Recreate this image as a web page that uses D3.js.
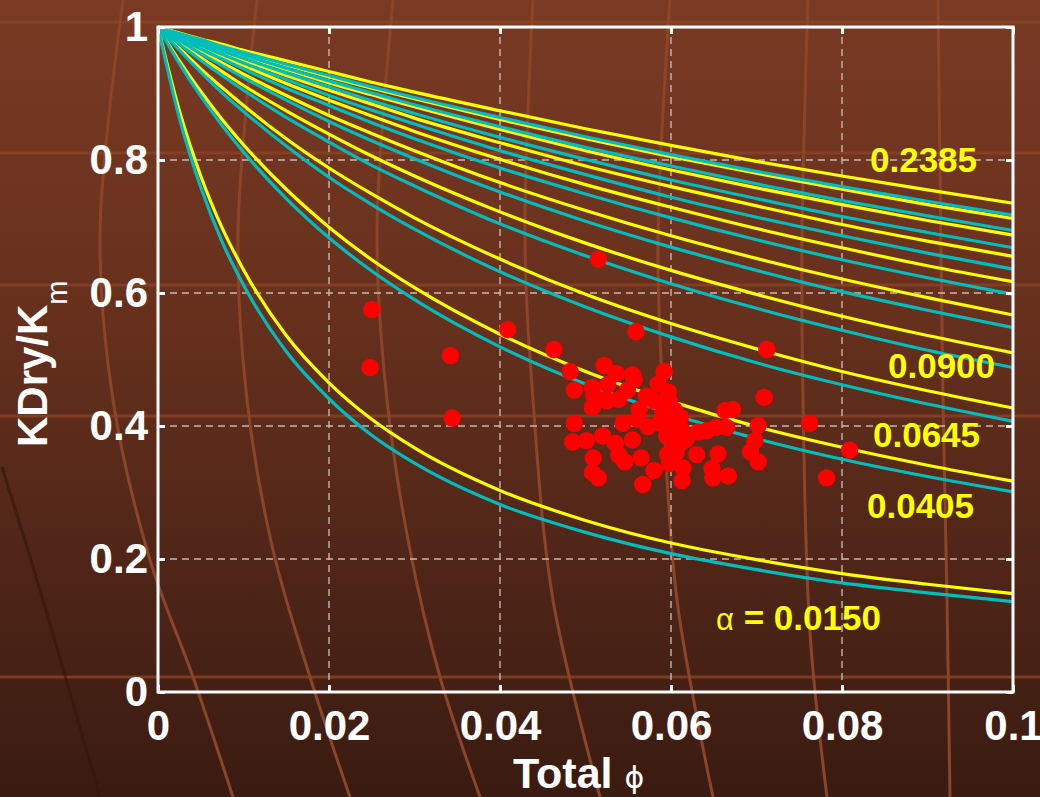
<!DOCTYPE html>
<html>
<head>
<meta charset="utf-8">
<script src="https://cdn.jsdelivr.net/npm/d3@7"></script>
<style>
  html, body { margin: 0; padding: 0; background: #5a2a1a; }
  svg { display: block; }
</style>
</head>
<body>
<svg id="chart" width="1040" height="797"></svg>
<script>
// ---- data -------------------------------------------------------------
// porosity samples along every model curve
const phiGrid = [0, 0.0025, 0.005, 0.0075, 0.01, 0.015, 0.02, 0.025, 0.03, 0.04, 0.05, 0.06, 0.07, 0.08, 0.09, 0.1];

// crack aspect ratios, one curve pair per value (lowest curve first)
const alphas = [0.0150, 0.0405, 0.0645, 0.0900, 0.1140, 0.1395, 0.1635, 0.1890, 0.2130, 0.2385];
const labeledAlphas = ["0.2385", "0.0900", "0.0645", "0.0405", "0.0150"];

// KDry/Km along phiGrid, yellow model
const yellowCurves = [
  [1, 0.874, 0.776, 0.698, 0.635, 0.536, 0.465, 0.410, 0.367, 0.303, 0.258, 0.224, 0.199, 0.178, 0.162, 0.148],
  [1, 0.949, 0.903, 0.861, 0.823, 0.756, 0.699, 0.650, 0.608, 0.538, 0.482, 0.437, 0.399, 0.368, 0.341, 0.317],
  [1, 0.968, 0.937, 0.909, 0.882, 0.832, 0.788, 0.749, 0.713, 0.651, 0.598, 0.554, 0.516, 0.482, 0.453, 0.427],
  [1, 0.977, 0.954, 0.933, 0.912, 0.874, 0.839, 0.806, 0.776, 0.722, 0.675, 0.634, 0.598, 0.565, 0.536, 0.510],
  [1, 0.981, 0.963, 0.946, 0.929, 0.897, 0.867, 0.840, 0.814, 0.766, 0.724, 0.686, 0.652, 0.621, 0.593, 0.567],
  [1, 0.985, 0.970, 0.955, 0.942, 0.915, 0.890, 0.866, 0.843, 0.801, 0.763, 0.729, 0.697, 0.668, 0.641, 0.617],
  [1, 0.987, 0.974, 0.962, 0.950, 0.927, 0.905, 0.884, 0.863, 0.826, 0.791, 0.760, 0.731, 0.703, 0.678, 0.655],
  [1, 0.989, 0.978, 0.967, 0.956, 0.936, 0.916, 0.898, 0.880, 0.846, 0.814, 0.785, 0.758, 0.733, 0.709, 0.687],
  [1, 0.990, 0.980, 0.971, 0.961, 0.943, 0.925, 0.908, 0.892, 0.861, 0.832, 0.805, 0.780, 0.756, 0.733, 0.712],
  [1, 0.991, 0.982, 0.974, 0.965, 0.949, 0.933, 0.917, 0.902, 0.874, 0.847, 0.822, 0.798, 0.776, 0.755, 0.735]
];

// KDry/Km along phiGrid, cyan model
const cyanCurves = [
  [1, 0.863, 0.759, 0.677, 0.612, 0.512, 0.441, 0.386, 0.344, 0.282, 0.240, 0.208, 0.184, 0.164, 0.149, 0.136],
  [1, 0.945, 0.896, 0.852, 0.812, 0.742, 0.683, 0.633, 0.590, 0.519, 0.463, 0.418, 0.381, 0.350, 0.324, 0.301],
  [1, 0.965, 0.932, 0.901, 0.873, 0.821, 0.774, 0.733, 0.696, 0.632, 0.579, 0.534, 0.495, 0.462, 0.433, 0.407],
  [1, 0.974, 0.950, 0.927, 0.905, 0.864, 0.827, 0.792, 0.761, 0.704, 0.656, 0.614, 0.577, 0.544, 0.514, 0.488],
  [1, 0.980, 0.960, 0.942, 0.924, 0.890, 0.858, 0.829, 0.802, 0.752, 0.708, 0.669, 0.634, 0.602, 0.574, 0.548],
  [1, 0.983, 0.967, 0.952, 0.937, 0.908, 0.882, 0.856, 0.832, 0.788, 0.749, 0.713, 0.680, 0.650, 0.623, 0.598],
  [1, 0.986, 0.972, 0.959, 0.946, 0.921, 0.897, 0.875, 0.854, 0.814, 0.778, 0.744, 0.714, 0.686, 0.660, 0.636],
  [1, 0.988, 0.976, 0.964, 0.953, 0.931, 0.910, 0.889, 0.870, 0.834, 0.801, 0.770, 0.742, 0.715, 0.691, 0.668],
  [1, 0.989, 0.978, 0.968, 0.958, 0.938, 0.919, 0.901, 0.883, 0.850, 0.819, 0.791, 0.764, 0.739, 0.716, 0.694],
  [1, 0.990, 0.981, 0.971, 0.962, 0.944, 0.927, 0.910, 0.894, 0.864, 0.835, 0.808, 0.783, 0.760, 0.738, 0.717]
];

// measured samples: total porosity and KDry/Km
const samplePhi = [
  0.0250, 0.0248, 0.0342, 0.0344, 0.0409, 0.0463, 0.0515, 0.0559, 0.0712, 0.0709, 0.0762, 0.0809, 0.0782,
  0.0482, 0.0487, 0.0487, 0.0485, 0.0501, 0.0522, 0.0536, 0.0555, 0.0557, 0.0508, 0.0526, 0.0549,
  0.0510, 0.0525, 0.0539, 0.0508, 0.0592, 0.0585, 0.0597, 0.0571, 0.0580, 0.0563, 0.0604, 0.0611,
  0.0544, 0.0573, 0.0561, 0.0520, 0.0535, 0.0555, 0.0509, 0.0539, 0.0546, 0.0565, 0.0508, 0.0515,
  0.0580, 0.0567, 0.0602, 0.0601, 0.0610, 0.0596, 0.0606, 0.0630, 0.0614, 0.0613, 0.0655, 0.0648,
  0.0667, 0.0649, 0.0632, 0.0642, 0.0653, 0.0663, 0.0672, 0.0665, 0.0702, 0.0698, 0.0693, 0.0702,
  0.0603, 0.0595, 0.0587, 0.0598, 0.0590, 0.0612, 0.0618, 0.0598
];
const sampleK = [
  0.575, 0.488, 0.506, 0.412, 0.545, 0.515, 0.651, 0.542, 0.515, 0.443, 0.404, 0.364, 0.322,
  0.482, 0.454, 0.404, 0.376, 0.378, 0.491, 0.479, 0.477, 0.470, 0.458, 0.462, 0.454,
  0.445, 0.438, 0.440, 0.428, 0.482, 0.463, 0.451, 0.445, 0.438, 0.425, 0.424, 0.413,
  0.404, 0.399, 0.410, 0.385, 0.374, 0.379, 0.352, 0.356, 0.346, 0.352, 0.330, 0.322,
  0.333, 0.312, 0.390, 0.378, 0.373, 0.357, 0.360, 0.357, 0.337, 0.318, 0.358, 0.336,
  0.325, 0.322, 0.391, 0.393, 0.398, 0.423, 0.425, 0.398, 0.401, 0.378, 0.361, 0.346,
  0.410, 0.385, 0.405, 0.438, 0.418, 0.395, 0.380, 0.343
];

const xTicks = [0, 0.02, 0.04, 0.06, 0.08, 0.1];
const xTickLabels = ["0", "0.02", "0.04", "0.06", "0.08", "0.1"];
const yTicks = [0, 0.2, 0.4, 0.6, 0.8, 1];
const yTickLabels = ["0", "0.2", "0.4", "0.6", "0.8", "1"];

// ---- slide backdrop (decorative, in pixels) ---------------------------
const backdropBands = [22, 153, 285, 416, 677];
const backdropStrokes = [
  [[123, 0], [100, 233], [113, 400], [150, 560], [193, 677], [233, 797]],
  [[257, 0], [238, 233], [247, 400], [273, 550], [310, 677], [350, 797]],
  [[393, 0], [377, 233], [387, 400], [410, 550], [440, 677], [480, 797]],
  [[533, 0], [525, 240], [533, 400], [553, 600], [600, 797]],
  [[670, 0], [658, 240], [663, 400], [677, 600], [713, 797]],
  [[808, 0], [802, 240], [803, 400], [810, 633], [827, 797]],
  [[938, 0], [943, 400], [947, 600], [950, 797]]
];

// ---- drawing ----------------------------------------------------------
const W = 1040, H = 797;
const FONT = "'Liberation Sans', Arial, Helvetica, sans-serif";
const svg = d3.select("#chart");

const x = d3.scaleLinear().domain([0, 0.1]).range([158, 1013]);
const y = d3.scaleLinear().domain([0, 1]).range([692, 27]);

// background gradient
const defs = svg.append("defs");
const grad = defs.append("linearGradient").attr("id", "bg")
  .attr("x1", 0).attr("y1", 0).attr("x2", 0).attr("y2", 1);
[["0%", "#7a3a23"], ["40%", "#66301d"], ["75%", "#4c2417"], ["100%", "#3a1b11"]]
  .forEach(([o, c]) => grad.append("stop").attr("offset", o).attr("stop-color", c));
svg.append("rect").attr("width", W).attr("height", H).attr("fill", "url(#bg)");

const backdrop = svg.append("g");
backdrop.selectAll("line.band").data(backdropBands).join("line")
  .attr("class", "band")
  .attr("x1", 0).attr("x2", W).attr("y1", d => d).attr("y2", d => d)
  .attr("stroke", "#8a4327").attr("stroke-width", 3).attr("opacity", 0.8);
const strokeLine = d3.line().curve(d3.curveCatmullRom);
backdrop.selectAll("path.stroke").data(backdropStrokes).join("path")
  .attr("class", "stroke")
  .attr("d", strokeLine)
  .attr("fill", "none").attr("stroke", "#8c4528").attr("stroke-width", 3);
backdrop.append("path")
  .attr("d", strokeLine([[2, 467], [40, 590], [100, 797]]))
  .attr("fill", "none").attr("stroke", "#341509").attr("stroke-width", 3).attr("opacity", 0.6);

// dashed grid
const grid = svg.append("g")
  .attr("stroke", "#d9cfc9").attr("stroke-width", 1.4).attr("stroke-dasharray", "7,5").attr("opacity", 0.85);
grid.selectAll("line.gx").data(xTicks.slice(1, -1)).join("line")
  .attr("class", "gx")
  .attr("x1", d => x(d)).attr("x2", d => x(d)).attr("y1", y(0)).attr("y2", y(1));
grid.selectAll("line.gy").data(yTicks.slice(1, -1)).join("line")
  .attr("class", "gy")
  .attr("y1", d => y(d)).attr("y2", d => y(d)).attr("x1", x(0)).attr("x2", x(0.1));

// model curves
const curve = d3.line()
  .x((d, i) => x(phiGrid[i]))
  .y(d => y(d))
  .curve(d3.curveMonotoneX);
const curves = svg.append("g").attr("fill", "none").attr("stroke-width", 3.2)
  .attr("stroke-linejoin", "round");
curves.selectAll("path.yel").data(yellowCurves).join("path")
  .attr("class", "yel").attr("d", curve).attr("stroke", "#ffff00");
curves.selectAll("path.cy").data(cyanCurves).join("path")
  .attr("class", "cy").attr("d", curve).attr("stroke", "#00bdbd");

// samples
svg.append("g").selectAll("circle").data(samplePhi).join("circle")
  .attr("cx", d => x(d))
  .attr("cy", (d, i) => y(sampleK[i]))
  .attr("r", 8.7)
  .attr("fill", "#ff0000");

// aspect-ratio labels
const labelLayout = [
  { text: labeledAlphas[0], px: 870, py: 172 },
  { text: labeledAlphas[1], px: 888, py: 378 },
  { text: labeledAlphas[2], px: 873, py: 447 },
  { text: labeledAlphas[3], px: 867, py: 518 }
];
const labels = svg.append("g").attr("font-family", FONT).attr("fill", "#ffff00");
labels.selectAll("text").data(labelLayout).join("text")
  .attr("x", d => d.px).attr("y", d => d.py)
  .attr("font-size", 35).attr("font-weight", "bold")
  .text(d => d.text);
const alphaLabel = labels.append("text").attr("x", 716).attr("y", 630);
alphaLabel.append("tspan").attr("font-size", 31).attr("font-weight", "normal").text("α");
alphaLabel.append("tspan").attr("font-size", 35).attr("font-weight", "bold").text(" = " + labeledAlphas[4]);

// axes
function styleAxis(g) {
  g.select(".domain").remove();
  g.selectAll(".tick line").attr("stroke", "#ffffff").attr("stroke-width", 3);
  g.selectAll(".tick text").attr("fill", "#ffffff").attr("font-family", FONT)
    .attr("font-size", 42).attr("font-weight", "bold");
}
svg.append("g").attr("transform", `translate(0,${y(0)})`)
  .call(d3.axisBottom(x).tickValues(xTicks).tickSize(-7).tickPadding(18)
    .tickFormat((d, i) => xTickLabels[i]))
  .call(styleAxis);
svg.append("g").attr("transform", `translate(0,${y(1)})`)
  .call(d3.axisTop(x).tickValues(xTicks).tickSize(-7).tickFormat(""))
  .call(styleAxis);
svg.append("g").attr("transform", `translate(${x(0)},0)`)
  .call(d3.axisLeft(y).tickValues(yTicks).tickSize(-7).tickPadding(10)
    .tickFormat((d, i) => yTickLabels[i]))
  .call(styleAxis);
svg.append("g").attr("transform", `translate(${x(0.1)},0)`)
  .call(d3.axisRight(y).tickValues(yTicks).tickSize(-7).tickFormat(""))
  .call(styleAxis);

svg.append("rect")
  .attr("x", x(0)).attr("y", y(1))
  .attr("width", x(0.1) - x(0)).attr("height", y(0) - y(1))
  .attr("fill", "none").attr("stroke", "#ffffff").attr("stroke-width", 3);

// axis titles
const xTitle = svg.append("text")
  .attr("x", 513).attr("y", 788)
  .attr("font-family", FONT).attr("fill", "#ffffff");
xTitle.append("tspan").attr("font-size", 43).attr("font-weight", "bold").text("Total");
xTitle.append("tspan").attr("dx", 12).attr("font-size", 30).attr("font-weight", "normal")
  .attr("font-family", "'DejaVu Sans', sans-serif").text("ϕ");

const yTitle = svg.append("text")
  .attr("transform", "translate(47,447) rotate(-90)")
  .attr("font-family", FONT).attr("fill", "#ffffff");
yTitle.append("tspan").attr("font-size", 42).attr("font-weight", "bold").text("KDry/K");
yTitle.append("tspan").attr("dy", 20).attr("font-size", 29).attr("font-weight", "normal").text("m");
</script>
</body>
</html>
